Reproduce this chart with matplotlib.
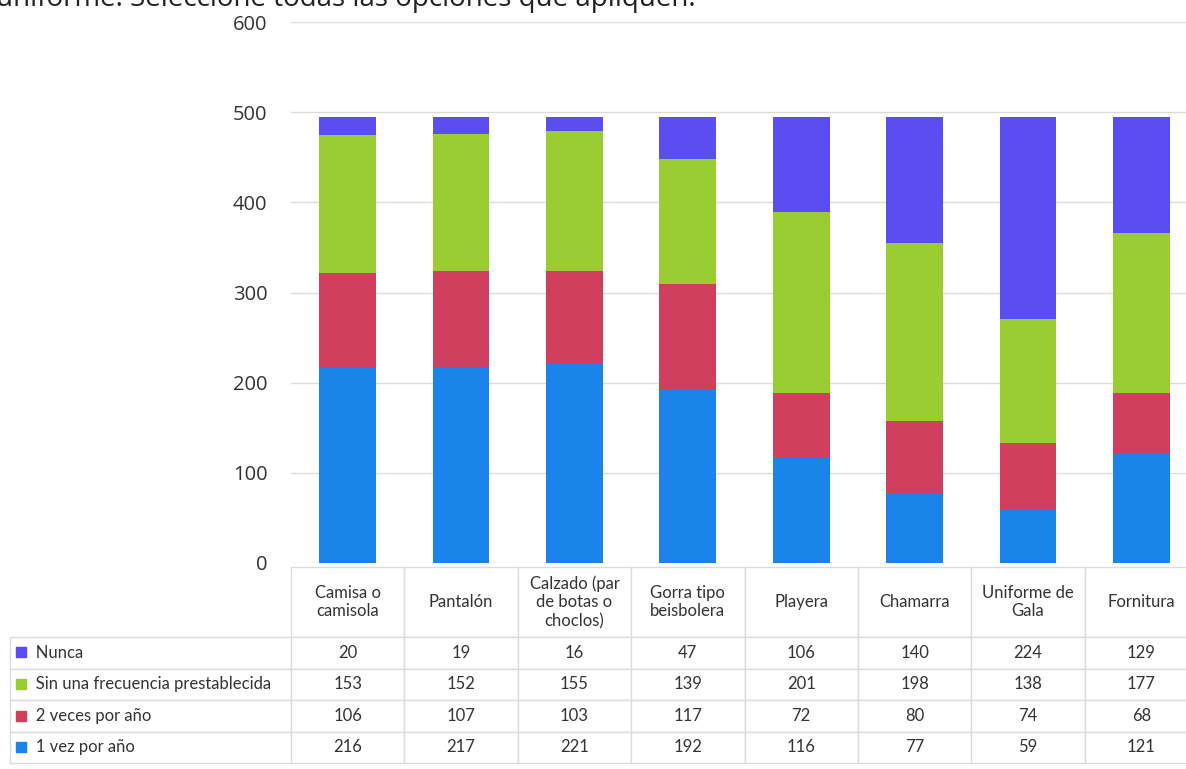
import numpy as np
import matplotlib.pyplot as plt

# data
categories = ['Camisa o\ncamisola', 'Pantalón', 'Calzado (par\nde botas o\nchoclos)',
              'Gorra tipo\nbeisbolera', 'Playera', 'Chamarra', 'Uniforme de\nGala', 'Fornitura']
vez_1 = [216, 217, 221, 192, 116, 77, 59, 121]
veces_2 = [106, 107, 103, 117, 72, 80, 74, 68]
sin_frec = [153, 152, 155, 139, 201, 198, 138, 177]
nunca = [20, 19, 16, 47, 106, 140, 224, 129]

series_names = ['1 vez por año', '2 veces por año', 'Sin una frecuencia prestablecida', 'Nunca']
series_vals = [vez_1, veces_2, sin_frec, nunca]
colours = ['#1a84ea', '#d0405e', '#9acd32', '#5b4ef0']

yticks = [0, 100, 200, 300, 400, 500, 600]
title = 'uniforme. Seleccione todas las opciones que apliquen.'

W, H = 1186, 769
fig = plt.figure(figsize=(W / 100, H / 100), dpi=100)

# axes placed in pixel terms, right edge runs past the figure like the source
ax_l, ax_r, ax_t, ax_b = 291, 1198, 22, 563
ax_w, ax_h = ax_r - ax_l, ax_b - ax_t
ax = fig.add_axes([ax_l / W, 1 - ax_b / H, ax_w / W, ax_h / H])

x = np.arange(len(categories))
bottom = np.zeros(len(categories))
for vals, col, name in zip(series_vals, colours, series_names):
    ax.bar(x, vals, width=0.5, bottom=bottom, color=col, label=name, zorder=3)
    bottom += np.array(vals)

ax.set_xlim(-0.5, len(categories) - 0.5)
ax.set_ylim(0, 600)
ax.set_yticks(yticks)
ax.set_xticks([])
ax.grid(axis='y', color='#dcdcdc', lw=1, zorder=0)
for s in ax.spines.values():
    s.set_visible(False)
ax.tick_params(axis='y', length=0, pad=17, labelsize=14.5, labelcolor='#333333')
for lbl in ax.get_yticklabels():
    lbl.set_family('Open Sans')

# data table below the bars; first column holds the series names
rows_order = [3, 2, 1, 0]
cell_text = [['   ' + series_names[i]] + [str(v) for v in series_vals[i]]
             for i in rows_order]
label_w = 281 / ax_w
tbl = ax.table(cellText=cell_text, colLabels=[''] + categories, cellLoc='center',
               bbox=[-label_w, -(763 - ax_b) / ax_h, 1 + label_w, (763 - 567) / ax_h])
tbl.auto_set_font_size(False)
for (r, c), cell in tbl.get_celld().items():
    cell.set_edgecolor('#dcdcdc')
    cell.set_linewidth(1)
    cell.get_text().set_fontsize(12)
    cell.get_text().set_family('Lato')
    cell.get_text().set_color('#333333')
    cell.set_width(label_w if c == 0 else 1 / len(categories))
    cell.set_height((70 if r == 0 else 31.5) / ax_h)
    if c == 0:
        cell.PAD = 0.045
        cell.get_text().set_horizontalalignment('left')
        cell._loc = 'left'
        if r == 0:
            cell.visible_edges = ''

# coloured keys in the row label cells
key_y = [652, 684, 715.5, 747]
for i, yy in zip(rows_order, key_y):
    ax.scatter([(21 - ax_l) / ax_w], [-(yy - ax_b) / ax_h],
               marker='s', s=45, color=colours[i], transform=ax.transAxes,
               clip_on=False, zorder=5)

fig.text(-0.003, 1 - 6 / H, title, fontsize=20, family='Open Sans',
         color='#222222', ha='left', va='baseline')

fig.savefig('out.png', dpi=100)
